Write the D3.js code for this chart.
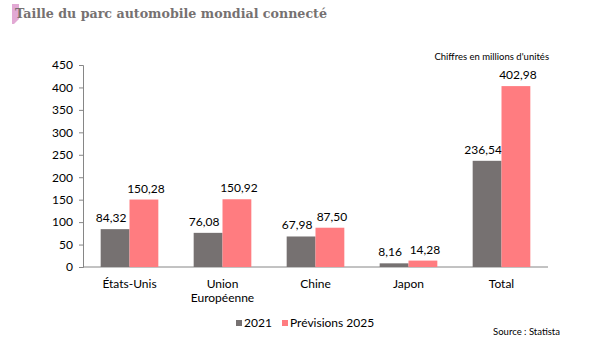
<!DOCTYPE html>
<html><head><meta charset="utf-8">
<script src="https://cdn.jsdelivr.net/npm/d3@7"></script>
<style>body{margin:0;background:#fff}svg{display:block;font-family:"Lato","Open Sans",sans-serif}</style>
</head><body>
<svg id="c" width="600" height="343"></svg>
<script>
const categories = ["États-Unis", "Union\nEuropéenne", "Chine", "Japon", "Total"];
const values2021 = [84.32, 76.08, 67.98, 8.16, 236.54];
const values2025 = [150.28, 150.92, 87.50, 14.28, 402.98];
const seriesNames = ["2021", "Prévisions 2025"];
const yTicks = [0, 50, 100, 150, 200, 250, 300, 350, 400, 450];

const colors = ["#767171", "#FF7C80"];
const svg = d3.select("#c");
const fmt = v => v.toFixed(2).replace(".", ",");

// Title decoration
svg.append("polygon").attr("points", "12,4 19,4 19,19 14,24 12,24").attr("fill", "#E2A9D4");
svg.append("text").attr("x", 15).attr("y", 18).text("Taille du parc automobile mondial connecté")
  .style("font-family", "'DejaVu Serif', serif").style("font-weight", "bold").style("font-size", "13.5px")
  .attr("fill", "#767171").attr("textLength", 312).attr("lengthAdjust", "spacingAndGlyphs");

const x0 = 83, x1 = 548, yBase = 267, yTop = 65;
const x = d3.scaleBand().domain(categories).range([x0, x1]).paddingInner(0.38).paddingOuter(0.19);
const xs = d3.scaleBand().domain([0, 1]).range([0, x.bandwidth()]);
const y = d3.scaleLinear().domain([0, 450]).range([yBase, yTop]);

// Y axis
const yAxis = svg.append("g").attr("transform", `translate(${x0},0)`)
  .call(d3.axisLeft(y).tickValues(yTicks).tickSize(4).tickPadding(6).tickFormat(d => d));
yAxis.attr("font-family", null);
yAxis.select(".domain").attr("stroke", "#868686");
yAxis.selectAll(".tick line").attr("stroke", "#868686");
yAxis.selectAll("text").attr("font-size", 12).attr("fill", "#000");

// X baseline
svg.append("line").attr("x1", x0).attr("x2", x1).attr("y1", yBase).attr("y2", yBase).attr("stroke", "#868686");

const series = [values2021, values2025];
series.forEach((vals, si) => {
  const g = svg.append("g");
  g.selectAll("rect").data(categories).join("rect")
    .attr("x", c => x(c) + xs(si)).attr("width", xs.bandwidth())
    .attr("y", (c, i) => y(vals[i])).attr("height", (c, i) => yBase - y(vals[i]))
    .attr("fill", colors[si]);
  g.selectAll("text").data(categories).join("text")
    .attr("x", c => x(c) + xs(si) + xs.bandwidth() / 2 + (si === 0 ? -4 : 2))
    .attr("y", (c, i) => y(vals[i]) - 7)
    .attr("text-anchor", "middle").attr("font-size", 12).attr("fill", "#000")
    .text((c, i) => fmt(vals[i]));
});

// Category labels
categories.forEach(c => {
  const lines = c.split("\n");
  const t = svg.append("text").attr("x", x(c) + x.bandwidth() / 2).attr("y", 288)
    .attr("text-anchor", "middle").attr("font-size", 12).attr("fill", "#000");
  lines.forEach((l, i) => t.append("tspan").attr("x", x(c) + x.bandwidth() / 2).attr("dy", i ? 14 : 0).text(l));
});

// Legend
const legX = [236, 282];
seriesNames.forEach((n, i) => {
  svg.append("rect").attr("x", legX[i]).attr("y", 320).attr("width", 6).attr("height", 6).attr("fill", colors[i]);
  svg.append("text").attr("x", legX[i] + 8).attr("y", 327).attr("font-size", 12).attr("fill", "#000").text(n);
});

svg.append("text").attr("x", 549).attr("y", 60).attr("text-anchor", "end").attr("font-size", 9.5)
  .attr("fill", "#000").text("Chiffres en millions d'unités");
svg.append("text").attr("x", 560).attr("y", 335).attr("text-anchor", "end").attr("font-size", 9.5)
  .attr("fill", "#000").text("Source : Statista");
</script>
</body></html>
